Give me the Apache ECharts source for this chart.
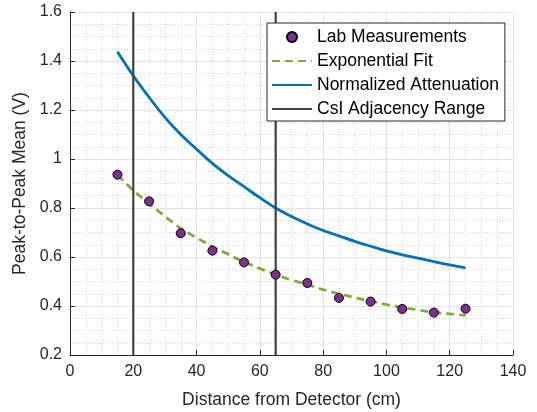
<!DOCTYPE html>
<html>
<head>
<meta charset="utf-8">
<script src="https://cdn.jsdelivr.net/npm/echarts@6/dist/echarts.min.js"></script>
<style>
html,body{margin:0;padding:0;background:#fff;}
#chart{width:537px;height:412px;}
</style>
</head>
<body>
<div id="chart"></div>
<script>
// Lab measurements
var measX = [15, 25, 35, 45, 55, 65, 75, 85, 95, 105, 115, 125];
var measY = [0.936, 0.827, 0.697, 0.626, 0.578, 0.528, 0.494, 0.433, 0.418, 0.388, 0.373, 0.389];

// Exponential fit
var fitX = [15, 20, 25, 30, 35, 40, 45, 50, 55, 60, 65, 70, 75, 80, 85, 90, 95, 100, 105, 110, 115, 120, 125];
var fitY = [0.935, 0.872, 0.818, 0.766, 0.717, 0.679, 0.643, 0.611, 0.580, 0.553, 0.528, 0.506, 0.487, 0.467, 0.450, 0.434, 0.420, 0.406, 0.394, 0.384, 0.374, 0.368, 0.362];

// Normalized attenuation
var attX = fitX;
var attY = [1.438, 1.340, 1.252, 1.170, 1.100, 1.040, 0.982, 0.932, 0.887, 0.842, 0.800, 0.765, 0.735, 0.708, 0.686, 0.664, 0.644, 0.625, 0.609, 0.595, 0.581, 0.568, 0.556];

// CsI adjacency range
var rangeX = [20, 65];

var xMin = 0, xMax = 140, xStep = 20;
var yMin = 0.2, yMax = 1.6, yStep = 0.2;

var seriesNames = ['Lab Measurements', 'Exponential Fit', 'Normalized Attenuation', 'CsI Adjacency Range'];

function zip(a, b) { return a.map(function (v, i) { return [v, b[i]]; }); }

var series = [];
rangeX.forEach(function (x) {
  series.push({
    name: seriesNames[3], type: 'line', symbol: 'none', z: 3,
    data: [[x, yMin], [x, yMax]],
    lineStyle: { color: '#404040', width: 2.2 },
    itemStyle: { color: '#404040' },
    silent: true
  });
});
series.push({
  name: seriesNames[1], type: 'line', symbol: 'none', z: 2, smooth: 0.4,
  data: zip(fitX, fitY),
  lineStyle: { color: '#77AC30', width: 2.7, type: [8, 5] },
  itemStyle: { color: '#77AC30' }
});
series.push({
  name: seriesNames[2], type: 'line', symbol: 'none', z: 2, smooth: 0.4,
  data: zip(attX, attY),
  lineStyle: { color: '#0072BD', width: 2.8 },
  itemStyle: { color: '#0072BD' }
});
series.push({
  name: seriesNames[0], type: 'scatter', symbol: 'circle', symbolSize: 9, z: 4,
  data: zip(measX, measY),
  itemStyle: { color: '#7E2F8E', borderColor: '#000', borderWidth: 1, opacity: 1 }
});

var font = 'Liberation Sans, Arial, Helvetica, sans-serif';
var gridMajor = { show: true, lineStyle: { color: '#e3e3e3', width: 1 } };
var gridMinor = { show: true, lineStyle: { color: '#d0d0d0', width: 1, type: [1, 2] } };

var legendData = seriesNames.map(function (n, i) {
  return i === 0 ? { name: n } : { name: n, itemStyle: { opacity: 0 } };
});

var chart = echarts.init(document.getElementById('chart'), null, { renderer: 'canvas' });
chart.setOption({
  animation: false,
  backgroundColor: '#fff',
  textStyle: { fontFamily: font },
  grid: { left: 70, right: 24, top: 12, bottom: 57, containLabel: false, outerBoundsMode: 'none' },
  legend: {
    data: legendData,
    orient: 'vertical',
    left: 267, top: 23,
    itemWidth: 40, itemHeight: 10, itemGap: 6,
    padding: [5, 6, 3, 4],
    backgroundColor: '#fff',
    borderColor: '#262626', borderWidth: 1,
    textStyle: { fontFamily: font, fontSize: 17.5, color: '#000', lineHeight: 17 },
    selectedMode: false
  },
  xAxis: {
    type: 'value', min: xMin, max: xMax, interval: xStep,
    name: 'Distance from Detector (cm)', nameLocation: 'middle', nameGap: 36,
    nameTextStyle: { fontFamily: font, fontSize: 17.5, color: '#262626' },
    axisLine: { show: true, lineStyle: { color: '#262626', width: 1 } },
    axisTick: { show: true, inside: true, length: 5, lineStyle: { color: '#262626' } },
    axisLabel: { fontFamily: font, fontSize: 16, color: '#262626', margin: 9 },
    splitLine: gridMajor,
    minorTick: { show: false, splitNumber: 4 },
    minorSplitLine: gridMinor
  },
  yAxis: {
    type: 'value', min: yMin, max: yMax, interval: yStep,
    name: 'Peak-to-Peak Mean (V)', nameLocation: 'middle', nameGap: 37,
    nameTextStyle: { fontFamily: font, fontSize: 17.5, color: '#262626' },
    axisLine: { show: true, lineStyle: { color: '#262626', width: 1 } },
    axisTick: { show: true, inside: true, length: 5, lineStyle: { color: '#262626' } },
    axisLabel: { fontFamily: font, fontSize: 16, color: '#262626', margin: 8 },
    splitLine: gridMajor,
    minorTick: { show: false, splitNumber: 4 },
    minorSplitLine: gridMinor
  },
  series: series
});
</script>
</body>
</html>
